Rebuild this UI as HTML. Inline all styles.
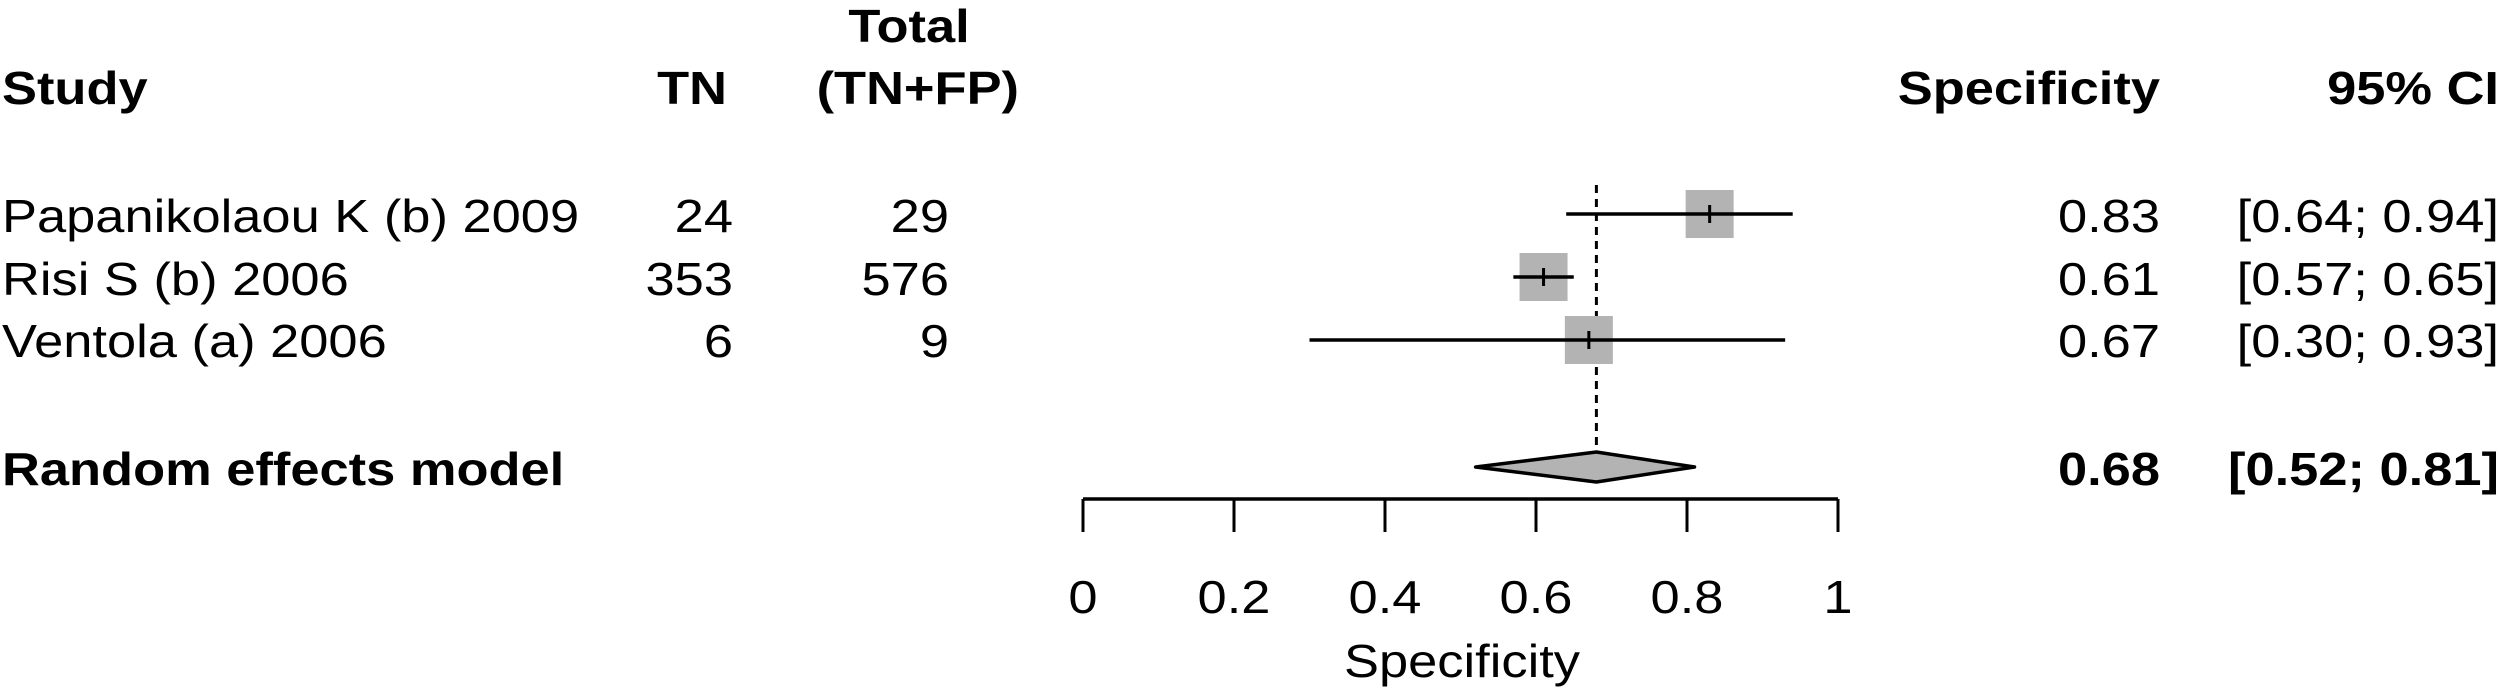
<!DOCTYPE html>
<html><head><meta charset="utf-8"><style>
html,body{margin:0;padding:0;background:#fff;}
svg{display:block;}
text{font-family:"Liberation Sans",Arial,sans-serif;font-size:46px;fill:#000;}
.b{font-weight:bold;}
</style></head><body>
<svg id="chart" width="2500" height="692" viewBox="0 0 2500 692" xmlns="http://www.w3.org/2000/svg">
<g id="txt"></g>
<g id="plot"></g>
</svg>
<script>
const studies = ["Papanikolaou K (b) 2009", "Risi S (b) 2006", "Ventola (a) 2006"];
const tn = [24, 353, 6];
const total = [29, 576, 9];
const spec = [0.83, 0.61, 0.67];
const lower = [0.64, 0.57, 0.30];
const upper = [0.94, 0.65, 0.93];
const pooled = [0.68, 0.52, 0.81];
const ticks = [0, 0.2, 0.4, 0.6, 0.8, 1];
const tickLabels = ["0", "0.2", "0.4", "0.6", "0.8", "1"];

const NS = "http://www.w3.org/2000/svg";
const X0 = 1083, XW = 755;
function sx(v){ return X0 + v * XW; }
const rowY = [214, 277, 340];
const rowBase = [232, 295, 357];
const SX = 1.14;
const txt = document.getElementById('txt');
const plot = document.getElementById('plot');

function T(str, x, y, anchor, bold, name){
  const t = document.createElementNS(NS, 'text');
  t.textContent = str;
  t.setAttribute('text-anchor', anchor);
  t.setAttribute('transform', 'translate(' + x + ',' + y + ') scale(' + SX + ',1)');
  if (bold) t.setAttribute('class', 'b');
  
  
  txt.appendChild(t);
  return t;
}
function E(tag, attrs, name){
  const e = document.createElementNS(NS, tag);
  for (const k in attrs) e.setAttribute(k, attrs[k]);
  
  
  plot.appendChild(e);
  return e;
}

// headers
T("Total", 909, 42, "middle", true, "header-total");
T("Study", 2, 104, "start", true, "header-study");
T("TN", 727, 104, "end", true, "header-tn");
T("(TN+FP)", 1019, 104, "end", true, "header-tn-fp");
T("Specificity", 2160, 104, "end", true, "header-specificity");
T("95% CI", 2499, 104, "end", true, "header-95-ci");

// rows
for (let i = 0; i < studies.length; i++){
  T(studies[i], 2, rowBase[i], "start", false, "study-name");
  T(String(tn[i]), 733, rowBase[i], "end", false, "tn-value");
  T(String(total[i]), 949, rowBase[i], "end", false, "total-value");
  T(spec[i].toFixed(2), 2160, rowBase[i], "end", false, "specificity-value");
  T("[" + lower[i].toFixed(2) + "; " + upper[i].toFixed(2) + "]", 2499, rowBase[i], "end", false, "ci-value");
}
T("Random effects model", 2, 485, "start", true, "pooled-label");
T(pooled[0].toFixed(2), 2160, 485, "end", true, "pooled-specificity");
T("[" + pooled[1].toFixed(2) + "; " + pooled[2].toFixed(2) + "]", 2499, 485, "end", true, "pooled-ci");

// reference dashed line
E('line', {x1: sx(pooled[0]), x2: sx(pooled[0]), y1: 185, y2: 453, stroke: '#000', 'stroke-width': 3, 'stroke-dasharray': '8,6'}, 'pooled-reference-line');

// study marks
for (let i = 0; i < studies.length; i++){
  const cx = sx(spec[i]), cy = rowY[i];
  E('rect', {x: cx - 24, y: cy - 24, width: 48, height: 48, fill: '#b3b3b3'}, 'study-box');
  E('line', {x1: sx(lower[i]), x2: sx(upper[i]), y1: cy, y2: cy, stroke: '#000', 'stroke-width': 3.5}, 'ci-line');
  E('line', {x1: cx, x2: cx, y1: cy - 9, y2: cy + 9, stroke: '#000', 'stroke-width': 3}, 'point-estimate');
}

// diamond
const dy = 467;
E('polygon', {points: sx(pooled[1]) + ',' + dy + ' ' + sx(pooled[0]) + ',' + (dy - 15) + ' ' + sx(pooled[2]) + ',' + dy + ' ' + sx(pooled[0]) + ',' + (dy + 15),
  fill: '#b3b3b3', stroke: '#000', 'stroke-width': 3.5, 'stroke-linejoin': 'round'}, 'pooled-diamond');

// axis
E('line', {x1: sx(0), x2: sx(1), y1: 499, y2: 499, stroke: '#000', 'stroke-width': 3.5}, 'x-axis-line');
for (let i = 0; i < ticks.length; i++){
  E('line', {x1: sx(ticks[i]), x2: sx(ticks[i]), y1: 499, y2: 532, stroke: '#000', 'stroke-width': 3}, 'x-tick');
  T(tickLabels[i], sx(ticks[i]), 613, "middle", false, "x-tick-label");
}
T("Specificity", 1462, 677, "middle", false, "x-axis-title");
</script>
</body></html>
